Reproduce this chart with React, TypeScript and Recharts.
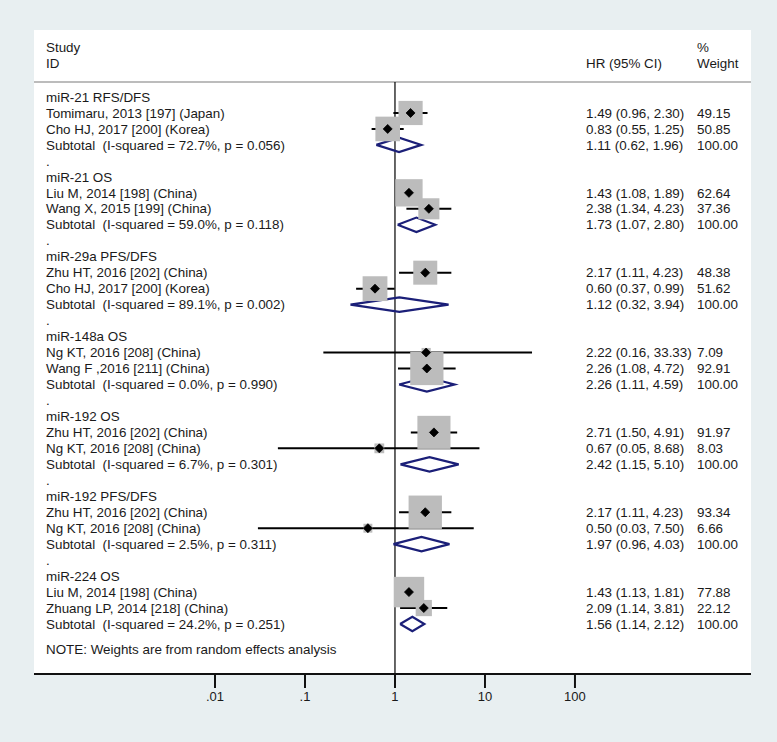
import React from 'react';
import { ComposedChart, Scatter, Line, XAxis, YAxis, ErrorBar, ReferenceLine } from 'recharts';

const FONT = "Arial, 'Liberation Sans', sans-serif";
const FS = 13.4;
const TEXT = '#1a1a1a';
const NAVY = '#1b1f78';

const groups = ['miR-21 RFS/DFS', 'miR-21 OS', 'miR-29a PFS/DFS', 'miR-148a OS', 'miR-192 OS', 'miR-192 PFS/DFS', 'miR-224 OS'];

// two studies per group
const studyNames = [
  ['Tomimaru, 2013 [197] (Japan)', 'Cho HJ, 2017 [200] (Korea)'],
  ['Liu M, 2014 [198] (China)', 'Wang X, 2015 [199] (China)'],
  ['Zhu HT, 2016 [202] (China)', 'Cho HJ, 2017 [200] (Korea)'],
  ['Ng KT, 2016 [208] (China)', 'Wang F ,2016 [211] (China)'],
  ['Zhu HT, 2016 [202] (China)', 'Ng KT, 2016 [208] (China)'],
  ['Zhu HT, 2016 [202] (China)', 'Ng KT, 2016 [208] (China)'],
  ['Liu M, 2014 [198] (China)', 'Zhuang LP, 2014 [218] (China)'],
];
const studyHR = [[1.49, 0.83], [1.43, 2.38], [2.17, 0.60], [2.22, 2.26], [2.71, 0.67], [2.17, 0.50], [1.43, 2.09]];
const studyLo = [[0.96, 0.55], [1.08, 1.34], [1.11, 0.37], [0.16, 1.08], [1.50, 0.05], [1.11, 0.03], [1.13, 1.14]];
const studyHi = [[2.30, 1.25], [1.89, 4.23], [4.23, 0.99], [33.33, 4.72], [4.91, 8.68], [4.23, 7.50], [1.81, 3.81]];
const studyWeight = [[49.15, 50.85], [62.64, 37.36], [48.38, 51.62], [7.09, 92.91], [91.97, 8.03], [93.34, 6.66], [77.88, 22.12]];

const subI2 = ['72.7%, p = 0.056', '59.0%, p = 0.118', '89.1%, p = 0.002', '0.0%, p = 0.990', '6.7%, p = 0.301', '2.5%, p = 0.311', '24.2%, p = 0.251'];
const subHR = [1.11, 1.73, 1.12, 2.26, 2.42, 1.97, 1.56];
const subLo = [0.62, 1.07, 0.32, 1.11, 1.15, 0.96, 1.14];
const subHi = [1.96, 2.80, 3.94, 4.59, 5.10, 4.03, 2.12];

const xTicks = [0.01, 0.1, 1, 10, 100];
const xDomain = [Math.pow(10, -4.011), Math.pow(10, 3.956)];
const yDomain = [-0.94, 36.13];
const noteRow = 34.6;

const fmt = (v: number) => v.toFixed(2);

// build rows
const studies: any[] = [];
const subtotals: any[] = [];
const labels: any[] = [];
groups.forEach((g, gi) => {
  const base = gi * 5;
  labels.push({ x: 1, y: base, left: g });
  studyNames[gi].forEach((name, si) => {
    const hr = studyHR[gi][si];
    const lo = studyLo[gi][si];
    const hi = studyHi[gi][si];
    studies.push({ x: hr, y: base + 1 + si, w: studyWeight[gi][si], err: [hr - lo, hi - hr] });
    labels.push({
      x: 1,
      y: base + 1 + si,
      left: name,
      hr: `${fmt(hr)} (${fmt(lo)}, ${fmt(hi)})`,
      wt: fmt(studyWeight[gi][si]),
    });
  });
  labels.push({
    x: 1,
    y: base + 3,
    left: `Subtotal  (I-squared = ${subI2[gi]})`,
    hr: `${fmt(subHR[gi])} (${fmt(subLo[gi])}, ${fmt(subHi[gi])})`,
    wt: '100.00',
  });
  if (gi < groups.length - 1) labels.push({ x: 1, y: base + 4, left: '.' });
  const r = base + 3;
  const h = 0.45;
  subtotals.push([
    { x: subLo[gi], y: r },
    { x: subHR[gi], y: r - h },
    { x: subHi[gi], y: r },
    { x: subHR[gi], y: r + h },
    { x: subLo[gi], y: r },
  ]);
});
labels.push({ x: 1, y: noteRow, left: 'NOTE: Weights are from random effects analysis' });

const SquareShape = (props: any) => {
  const { cx, cy, payload } = props;
  const s = 3.45 * Math.sqrt(payload.w);
  return <rect x={cx - s / 2} y={cy - s / 2} width={s} height={s} fill="#bcbcbc" />;
};

const DotShape = (props: any) => {
  const { cx, cy } = props;
  const d = 4.5;
  return <polygon points={`${cx - d},${cy} ${cx},${cy - d} ${cx + d},${cy} ${cx},${cy + d}`} fill="#000" stroke="#000" strokeWidth={0.8} strokeLinejoin="round" />;
};

const LabelShape = (props: any) => {
  const { cy, payload } = props;
  const st = { whiteSpace: 'pre' as const };
  return (
    <g fontFamily={FONT} fontSize={FS} fill={TEXT}>
      <text x={46} y={cy} dy="0.35em" style={st}>{payload.left}</text>
      {payload.hr && <text x={586} y={cy} dy="0.35em">{payload.hr}</text>}
      {payload.wt && <text x={697} y={cy} dy="0.35em">{payload.wt}</text>}
    </g>
  );
};

export default function App() {
  return (
    <div style={{ position: 'absolute', left: 0, top: 0, width: 777, height: 742, background: '#e8eff1' }}>
      <div style={{ position: 'absolute', left: 34, top: 30, width: 717, height: 644, background: '#fff' }} />
      <div style={{ position: 'absolute', left: 0, top: 0 }}>
        <ComposedChart width={777} height={742} margin={{ top: 82, right: 26, bottom: 28, left: 34 }}>
          <XAxis
            type="number"
            dataKey="x"
            scale="log"
            domain={xDomain}
            ticks={xTicks}
            allowDataOverflow
            height={40}
            tickSize={14}
            tickMargin={4}
            tickFormatter={(v: number) => (v < 1 ? String(v).replace(/^0/, '') : String(v))}
            axisLine={{ stroke: '#111', strokeWidth: 2 }}
            tickLine={{ stroke: '#111', strokeWidth: 2 }}
            tick={{ fontSize: 13, fontFamily: FONT, fill: TEXT }}
          />
          <YAxis type="number" dataKey="y" domain={yDomain} reversed hide allowDataOverflow />
          <ReferenceLine y={yDomain[0]} stroke="#a6a6a6" strokeWidth={1.5} />
          <ReferenceLine x={1} stroke="#000" strokeWidth={1.2} />
          <Scatter data={studies} shape={<SquareShape />} isAnimationActive={false} />
          <Scatter data={studies} shape={<DotShape />} isAnimationActive={false}>
            <ErrorBar dataKey="err" direction="x" width={0} stroke="#000" strokeWidth={2} />
          </Scatter>
          {subtotals.map((d, i) => (
            <Line
              key={i}
              data={d}
              dataKey="y"
              type="linear"
              stroke={NAVY}
              strokeWidth={2.2}
              dot={false}
              activeDot={false}
              isAnimationActive={false}
            />
          ))}
          <Scatter data={labels} shape={<LabelShape />} isAnimationActive={false} />
          <g fontFamily={FONT} fontSize={FS} fill={TEXT}>
            <text x={46} y={52}>Study</text>
            <text x={46} y={68}>ID</text>
            <text x={586} y={68}>HR (95% CI)</text>
            <text x={697} y={52}>%</text>
            <text x={697} y={68}>Weight</text>
          </g>
        </ComposedChart>
      </div>
    </div>
  );
}
